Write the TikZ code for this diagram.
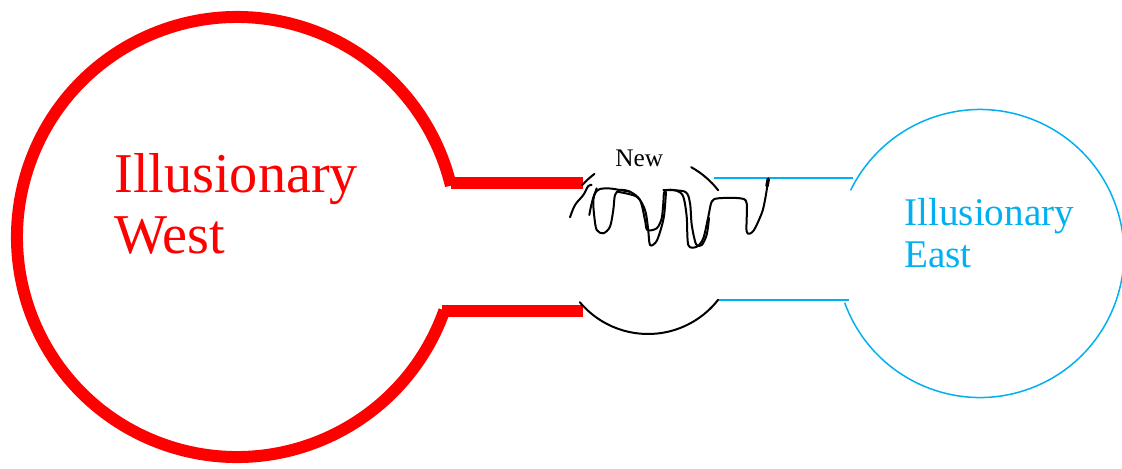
\documentclass[tikz,border=0pt]{standalone}
\usepackage{fontspec}
\setmainfont{Liberation Serif}
\usepackage{tikz}
\definecolor{westred}{RGB}{255,0,0}
\definecolor{eastblue}{RGB}{0,176,240}
\newcommand{\isleBigFont}{\fontsize{32}{38}\selectfont}
\newcommand{\isleMidFont}{\fontsize{22.3}{27}\selectfont}
\newcommand{\isleSmallFont}{\fontsize{14.4}{17}\selectfont}
\tikzset{
    isle/chart/.style={x=0.02cm, y=0.02cm, every node/.style={inner sep=0pt, anchor=base west}},
    isle/west/.style={draw=westred, line width=0.24cm},
    isle/westtext/.style={text=westred, font=\isleBigFont},
    isle/east/.style={draw=eastblue, line width=0.03cm},
    isle/easttext/.style={text=eastblue, font=\isleMidFont},
    isle/sketch/.style={draw=black, line width=0.04cm, line cap=round, line join=round},
    isle/newtext/.style={font=\isleSmallFont}
}
\begin{document}
\begin{tikzpicture}[isle/chart]
    \useasboundingbox (0,0) rectangle (1122,468);
    % centres of the three rings
    \coordinate (westc) at (237,231);
    \coordinate (eastc) at (980,214.5);
    \coordinate (newc) at (648,223);
    % west island and its causeway
    \draw[isle/west] (westc) ++(-19.5:220) arc[start angle=-19.5, end angle=-346.5, radius=220];
    \coordinate (westtop) at (451,285);
    \coordinate (westbot) at (442,157);
    \coordinate (wtopend) at (583,285);
    \coordinate (wbotend) at (583,157);
    \draw[isle/west] (westtop) -- (wtopend);
    \draw[isle/west] (westbot) -- (wbotend);
    \node[isle/westtext] (westA) at (114,275.3) {Illusionary};
    \node[isle/westtext] (westB) at (114,215) {West};
    % east island and its causeway
    \draw[isle/east] (eastc) ++(-160:144) arc[start angle=-160, end angle=154, radius=144];
    \coordinate (etopstart) at (714,290);
    \coordinate (etopend) at (853,290);
    \coordinate (ebotstart) at (719,168);
    \coordinate (ebotend) at (849,168);
    \draw[isle/east] (etopstart) -- (etopend);
    \draw[isle/east] (ebotstart) -- (ebotend);
    \node[isle/easttext] (eastA) at (904,243) {Illusionary};
    \node[isle/easttext] (eastB) at (904,201) {East};
    % the new piece in between
    \node[isle/newtext] (newlabel) at (615,301.3) {New};
    \draw[isle/sketch] (newc) ++(127:89) arc[start angle=127, end angle=138, radius=89];
    \draw[isle/sketch] (newc) ++(38:89) arc[start angle=38, end angle=61, radius=89];
    \draw[isle/sketch] (newc) ++(220:89) arc[start angle=220, end angle=322, radius=89];
    \draw[isle/sketch] plot[smooth, tension=0.55] coordinates {(570,250.7) (575,263) (583.3,273) (588.3,282) (591.7,283)};
    \draw[isle/sketch] plot[smooth, tension=0.55] coordinates {(589.3,253) (591.7,264.7) (595,274.7) (600,279) (610,279.5) (620,278) (630,276.3)};
    \draw[isle/sketch] plot[smooth, tension=0.5] coordinates {
        (596.7,279.7) (593.3,268) (594.3,251.3) (596.7,238) (603.3,234.7) (610,241.3)
        (613.3,258) (615,273) (620,278) (630,276.3) (640,268) (645,248) (647.3,238)
        (656.7,239.7) (661.7,249.7) (663.3,264.7) (665,277.3) (676.7,277.3) (683.3,271.3)
        (686.7,251.3) (688.3,223) (696.7,221.3) (703.3,229.7) (708.3,251.3) (711.7,266.3)
        (718.3,269.7) (740,269.7) (746.7,264.7) (746.7,236.3) (753.3,237) (761.7,254.7)
        (765,268) (768.3,288)};
    \draw[isle/sketch] plot[smooth, tension=0.5] coordinates {
        (617,276.3) (636.7,271.3) (645,258) (648,240) (650,223) (656,226) (660,236) (664,252) (666,276)};
    \draw[isle/sketch] plot[smooth, tension=0.5] coordinates {
        (663.3,278) (685,276.3) (690,264.7) (691.7,243.3) (696,224) (701.7,223) (706.7,233.3) (709,250)};
    \draw[isle/sketch, line width=0.07cm] (767,282) -- (768.3,289);
\end{tikzpicture}
\end{document}
